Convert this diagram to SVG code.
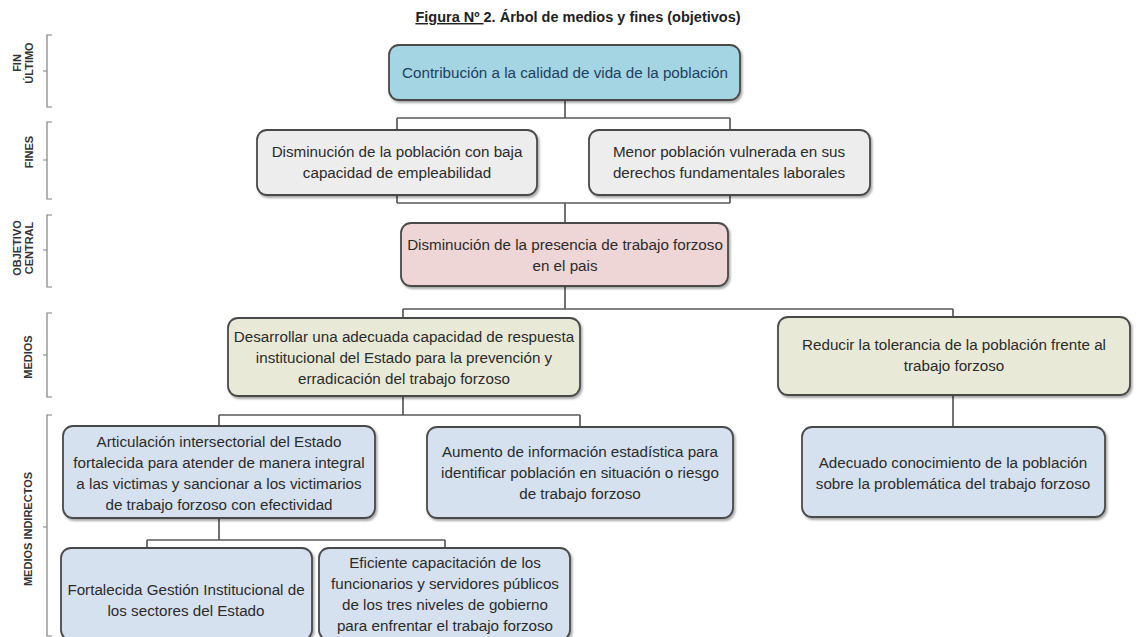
<svg xmlns="http://www.w3.org/2000/svg" width="1137" height="637" viewBox="0 0 1137 637">
<defs>
<filter id="sh" x="-5%" y="-10%" width="115%" height="130%">
<feDropShadow dx="1.5" dy="2" stdDeviation="1.2" flood-color="#000" flood-opacity="0.35"/>
</filter>
</defs>
<style>
.box{stroke:#4a4a4a;stroke-width:1.8;filter:url(#sh)}
.blue{fill:#A3D5E3}
.gray{fill:#EDEDED}
.pink{fill:#EED6D6}
.olive{fill:#E8EAD7}
.lblue{fill:#D6E1EF}
.t{font-family:"Liberation Sans",Arial,sans-serif;font-size:15.2px;fill:#2b2b2b;text-anchor:middle}
.tb{fill:#1F3F5F}
.lab{font-family:"Liberation Sans",Arial,sans-serif;font-size:11px;font-weight:bold;fill:#333;text-anchor:middle}
.br{fill:none;stroke:#808080;stroke-width:1.2}
.c{fill:none;stroke:#5a5a5a;stroke-width:1.7}
.title{font-family:"Liberation Sans",Arial,sans-serif;font-size:14.5px;font-weight:bold;fill:#222;text-anchor:middle}
</style>
<rect width="1137" height="637" fill="#ffffff"/>
<text class="title" x="578" y="22"><tspan text-decoration="underline">Figura Nº </tspan>2. Árbol de medios y fines (objetivos)</text>

<g id="side-labels">
<g id="lab-fin">
<path class="br" d="M52,35 H47 V107 H52 M47,71 H43"/>
<text class="lab" transform="translate(0,63) rotate(-90)"><tspan x="0" y="21">FIN</tspan><tspan x="0" y="33">ÚLTIMO</tspan></text>
</g>
<g id="lab-fines">
<path class="br" d="M52,122 H47 V199 H52 M47,160 H43"/>
<text class="lab" transform="translate(0,152) rotate(-90)"><tspan x="0" y="33">FINES</tspan></text>
</g>
<g id="lab-obj">
<path class="br" d="M52,215 H47 V287 H52 M47,250 H43"/>
<text class="lab" transform="translate(0,248) rotate(-90)"><tspan x="0" y="21">OBJETIVO</tspan><tspan x="0" y="33">CENTRAL</tspan></text>
</g>
<g id="lab-medios">
<path class="br" d="M52,313 H47 V397 H52 M47,355 H43"/>
<text class="lab" transform="translate(0,357) rotate(-90)"><tspan x="0" y="32">MEDIOS</tspan></text>
</g>
<g id="lab-mi">
<path class="br" d="M52,415 H47 V636 H52 M47,527 H43"/>
<text class="lab" transform="translate(0,529) rotate(-90)"><tspan x="0" y="32">MEDIOS INDIRECTOS</tspan></text>
</g>
</g>

<g id="connectors">
<path class="c" d="M565,100 V118 M397,118 H730 M397,118 V130 M730,118 V130"/>
<path class="c" d="M397,195 V203 M730,195 V203 M397,203 H730 M565,203 V223"/>
<path class="c" d="M565,286 V309 M403,309 H953 M403,309 V318 M953,309 V317"/>
<path class="c" d="M403,396 V415 M219,415 H580 M219,415 V426 M580,415 V427"/>
<path class="c" d="M953,395 V427"/>
<path class="c" d="M219,518 V540 M147,540 H445 M147,540 V548 M445,540 V548"/>
</g>

<g id="n-fin">
<rect class="box blue" x="389" y="45" width="351" height="55" rx="10"/>
<text class="t tb" x="565" y="78">Contribución a la calidad de vida de la población</text>
</g>
<g id="n-fin1">
<rect class="box gray" x="257" y="130" width="280" height="65" rx="10"/>
<text class="t"><tspan x="397" y="157">Disminución de la población con baja</tspan><tspan x="397" y="178">capacidad de empleabilidad</tspan></text>
</g>
<g id="n-fin2">
<rect class="box gray" x="589" y="130" width="281" height="65" rx="10"/>
<text class="t"><tspan x="729" y="157">Menor población vulnerada en sus</tspan><tspan x="729" y="178">derechos fundamentales laborales</tspan></text>
</g>
<g id="n-central">
<rect class="box pink" x="401" y="223" width="327" height="63" rx="10"/>
<text class="t"><tspan x="565" y="250">Disminución de la presencia de trabajo forzoso</tspan><tspan x="565" y="271">en el pais</tspan></text>
</g>
<g id="n-medio1">
<rect class="box olive" x="228" y="318" width="352" height="78" rx="10"/>
<text class="t"><tspan x="404" y="342">Desarrollar una adecuada capacidad de respuesta</tspan><tspan x="404" y="363">institucional del Estado para la prevención y</tspan><tspan x="404" y="384">erradicación del trabajo forzoso</tspan></text>
</g>
<g id="n-medio2">
<rect class="box olive" x="778" y="317" width="352" height="78" rx="10"/>
<text class="t"><tspan x="954" y="350">Reducir la tolerancia de la población frente al</tspan><tspan x="954" y="371">trabajo forzoso</tspan></text>
</g>
<g id="n-mi1">
<rect class="box lblue" x="63" y="426" width="312" height="92" rx="10"/>
<text class="t"><tspan x="219" y="447">Articulación intersectorial del Estado</tspan><tspan x="219" y="468">fortalecida para atender de manera integral</tspan><tspan x="219" y="489">a las victimas y sancionar a los victimarios</tspan><tspan x="219" y="510">de trabajo forzoso con efectividad</tspan></text>
</g>
<g id="n-mi2">
<rect class="box lblue" x="427" y="427" width="306" height="91" rx="10"/>
<text class="t"><tspan x="580" y="457">Aumento de información estadística para</tspan><tspan x="580" y="478">identificar población en situación o riesgo</tspan><tspan x="580" y="499">de trabajo forzoso</tspan></text>
</g>
<g id="n-mi3">
<rect class="box lblue" x="802" y="427" width="303" height="90" rx="10"/>
<text class="t"><tspan x="953" y="468">Adecuado conocimiento de la población</tspan><tspan x="953" y="489">sobre la problemática del trabajo forzoso</tspan></text>
</g>
<g id="n-mi4">
<rect class="box lblue" x="61" y="548" width="251" height="92" rx="10"/>
<text class="t"><tspan x="186" y="595">Fortalecida Gestión Institucional de</tspan><tspan x="186" y="616">los sectores del Estado</tspan></text>
</g>
<g id="n-mi5">
<rect class="box lblue" x="319" y="548" width="251" height="92" rx="10"/>
<text class="t"><tspan x="445" y="568">Eficiente capacitación de los</tspan><tspan x="445" y="589">funcionarios y servidores públicos</tspan><tspan x="445" y="610">de los tres niveles de gobierno</tspan><tspan x="445" y="631">para enfrentar el trabajo forzoso</tspan></text>
</g>
</svg>
